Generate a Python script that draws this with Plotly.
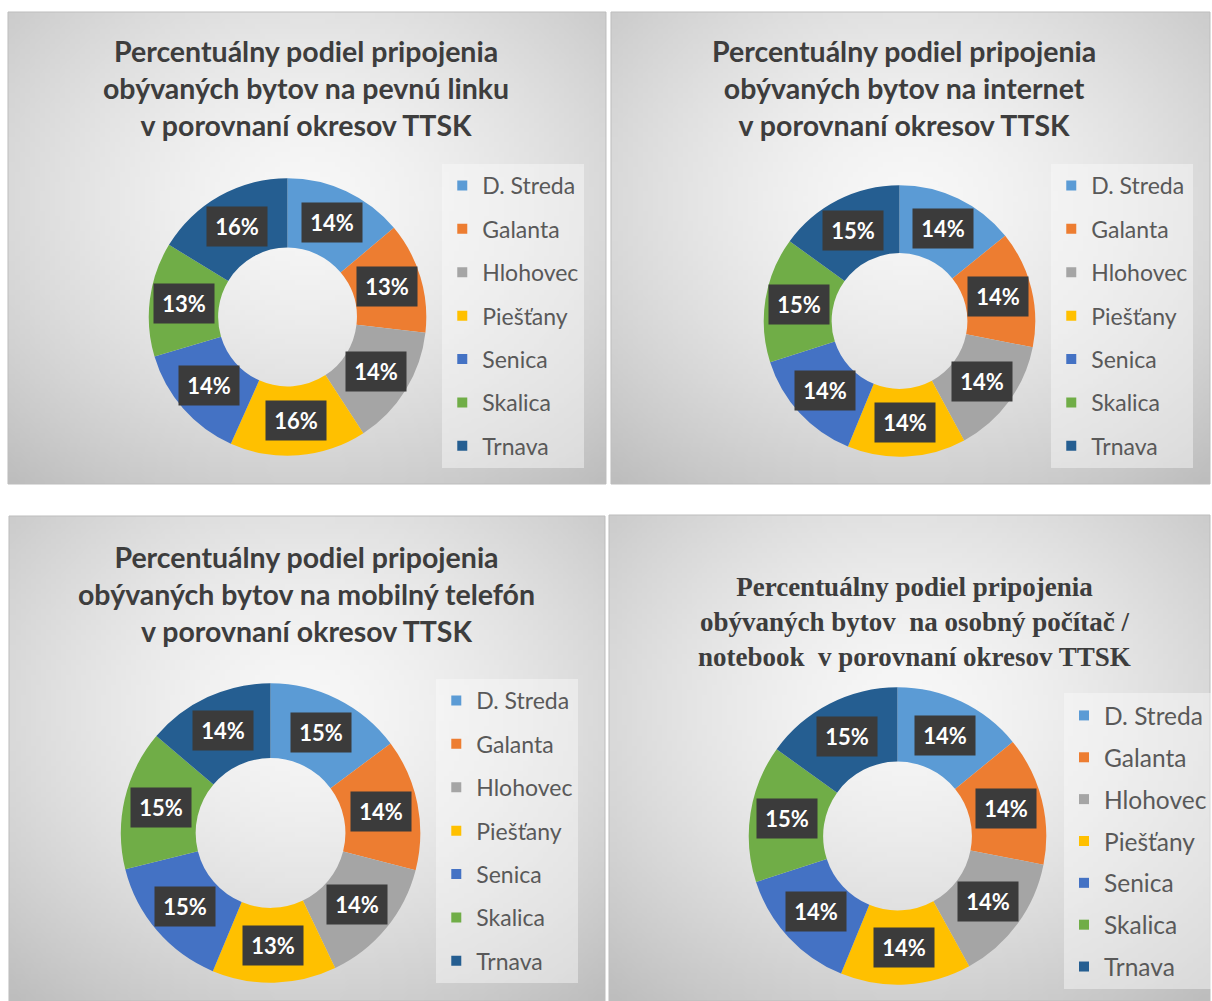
import math, zlib, struct, base64
import plotly.graph_objects as go

# ---------------- data ----------------
districts = ["D. Streda", "Galanta", "Hlohovec", "Piešťany", "Senica", "Skalica", "Trnava"]

pevna_linka = [13.9, 12.9, 14.0, 15.9, 13.7, 13.3, 16.3]
internet = [14.2, 13.9, 14.0, 14.1, 13.9, 14.9, 15.0]
mobilny_telefon = [14.8, 14.2, 13.9, 13.4, 14.8, 15.1, 13.8]
pocitac = [14.1, 14.0, 13.9, 14.2, 13.8, 14.9, 15.1]

titles = [
    "Percentuálny podiel pripojenia<br>obývaných bytov na pevnú linku<br>v porovnaní okresov TTSK",
    "Percentuálny podiel pripojenia<br>obývaných bytov na internet<br>v porovnaní okresov TTSK",
    "Percentuálny podiel pripojenia<br>obývaných bytov na mobilný telefón<br>v porovnaní okresov TTSK",
    "Percentuálny podiel pripojenia<br>obývaných bytov  na osobný počítač /<br>notebook  v porovnaní okresov TTSK",
]

colors = ["#5B9BD5", "#ED7D31", "#A5A5A5", "#FFC000", "#4472C4", "#70AD47", "#255E91"]

# ---------------- layout helpers ----------------
W, H = 1212, 1001

def px(x):
    return x / W

def py(y):
    return 1 - y / H

def gradient_png(w, h, cxf, cyf, inner, outer, power):
    rows = []
    dmax = math.hypot(max(cxf, 1 - cxf), max(cyf, 1 - cyf))
    for j in range(h):
        row = bytearray([0])
        for i in range(w):
            d = math.hypot((i + 0.5) / w - cxf, (j + 0.5) / h - cyf) / dmax
            t = min(1.0, d) ** power
            c = int(round(inner - (inner - outer) * t))
            row += bytes([c, c, c])
        rows.append(bytes(row))
    raw = b"".join(rows)

    def chunk(tag, data):
        return struct.pack(">I", len(data)) + tag + data + struct.pack(">I", zlib.crc32(tag + data) & 0xffffffff)

    png = b"\x89PNG\r\n\x1a\n" + chunk(b"IHDR", struct.pack(">IIBBBBB", w, h, 8, 2, 0, 0, 0)) \
        + chunk(b"IDAT", zlib.compress(raw, 9)) + chunk(b"IEND", b"")
    return "data:image/png;base64," + base64.b64encode(png).decode()

bg = gradient_png(120, 96, 0.5, 0.40, 247, 188, 1.5)

panels = [
    dict(values=pevna_linka, box=(8, 12, 607, 484), c=(288, 317), R=139, title=(307, 88),
         tfont="Lato", tsize=28.5, legend=(443, 164), lsize=23, gap=10.5),
    dict(values=internet, box=(612, 12, 1212, 484), c=(901, 321), R=136, title=(905, 88),
         tfont="Lato", tsize=28.5, legend=(1053, 164), lsize=23, gap=10.5),
    dict(values=mobilny_telefon, box=(9, 516, 606, 1001), c=(271, 833), R=150, title=(307, 594),
         tfont="Lato", tsize=28.5, legend=(437, 679), lsize=23, gap=10.5),
    dict(values=pocitac, box=(610, 515, 1212, 1001), c=(899, 836), R=149, title=(916, 622),
         tfont="Liberation Serif", tsize=27, legend=(1066, 693), lsize=24.5, gap=7),
]

fig = go.Figure()
annotations, shapes, images = [], [], []
HOLE = 0.5

for k, p in enumerate(panels):
    x0, y0, x1, y1 = p["box"]
    images.append(dict(source=bg, xref="paper", yref="paper", x=px(x0), y=py(y0),
                       sizex=(x1 - x0) / W, sizey=(y1 - y0) / H, xanchor="left", yanchor="top",
                       sizing="stretch", layer="below"))
    shapes.append(dict(type="rect", xref="paper", yref="paper", x0=px(x0), x1=px(x1), y0=py(y1), y1=py(y0),
                       line=dict(color="#bdbdbd", width=1), fillcolor="rgba(0,0,0,0)", layer="below"))

    cx, cy = p["c"]
    R = p["R"]
    fig.add_trace(go.Pie(
        labels=districts, values=p["values"], hole=HOLE, sort=False, direction="clockwise", rotation=0,
        marker=dict(colors=colors, line=dict(width=0)), textinfo="none", showlegend=False,
        domain=dict(x=[px(cx - R), px(cx + R)], y=[py(cy + R), py(cy - R)]),
        hovertemplate="%{label}: %{percent}<extra></extra>",
    ))

    # data labels in dark boxes at ring mid-radius
    tot = sum(p["values"])
    rm = R * (1 + HOLE) / 2
    cum = 0.0
    for v in p["values"]:
        ang = (cum + v / 2) / tot * 2 * math.pi
        cum += v
        lx = cx + rm * math.sin(ang)
        ly = cy - rm * math.cos(ang)
        annotations.append(dict(
            x=px(lx), y=py(ly), xref="paper", yref="paper", showarrow=False,
            xanchor="center", yanchor="middle",
            text="<b>%d%%</b>" % round(100 * v / tot),
            font=dict(family="Lato", size=22, color="white"),
            bgcolor="#3b3b3b", width=58, height=37, align="center", valign="middle",
        ))

    tx, ty = p["title"]
    annotations.append(dict(
        x=px(tx), y=py(ty), xref="paper", yref="paper", showarrow=False, xanchor="center", yanchor="middle",
        text="<b>" + titles[k] + "</b>", align="center",
        font=dict(family=p["tfont"], size=p["tsize"], color="#3d3d3d"),
    ))

    # legend entries
    lname = "legend" if k == 0 else "legend%d" % (k + 1)
    for j, (d, c) in enumerate(zip(districts, colors)):
        fig.add_trace(go.Scatter(
            x=[None], y=[None], mode="markers", name=d,
            marker=dict(symbol="square", size=10, color=c),
            legend=lname, legendgroup="g%d_%d" % (k, j), showlegend=True, hoverinfo="skip",
        ))

legend_layout = {}
for k, p in enumerate(panels):
    lname = "legend" if k == 0 else "legend%d" % (k + 1)
    lx, ly = p["legend"]
    legend_layout[lname] = dict(
        x=px(lx), y=py(ly), xanchor="left", yanchor="top", xref="paper", yref="paper",
        bgcolor="rgba(250,250,250,0.45)", borderwidth=0, tracegroupgap=p["gap"], itemwidth=30,
        font=dict(family="Lato", size=p["lsize"], color="#595959"), itemclick=False, itemdoubleclick=False,
    )

fig.update_layout(
    width=W, height=H, margin=dict(l=0, r=0, t=0, b=0),
    paper_bgcolor="white", plot_bgcolor="rgba(0,0,0,0)",
    xaxis=dict(visible=False), yaxis=dict(visible=False),
    annotations=annotations, shapes=shapes, images=images,
    **legend_layout,
)

fig.write_html("out.html", config={"displayModeBar": False},
               post_script="document.body.style.margin='0';document.body.style.overflow='hidden';")
